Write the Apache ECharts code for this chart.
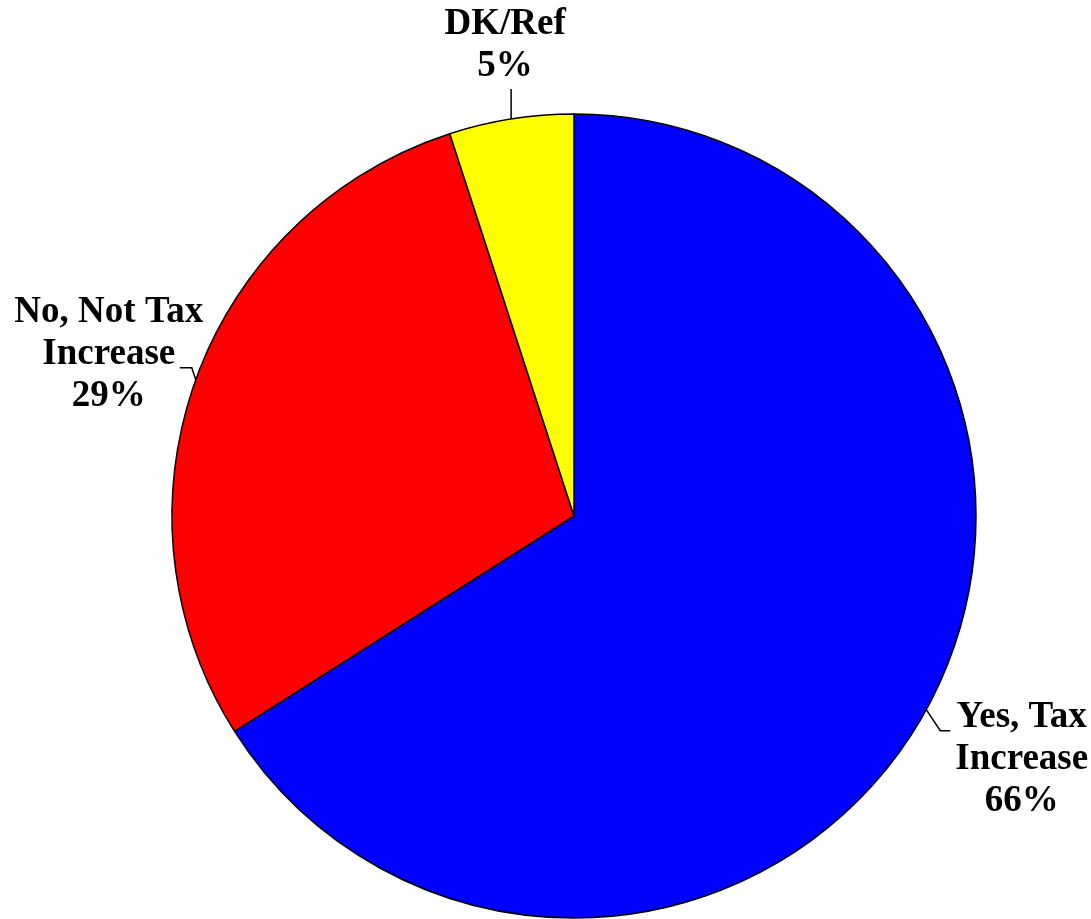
<!DOCTYPE html>
<html>
<head>
<meta charset="utf-8">
<script src="https://cdn.jsdelivr.net/npm/echarts@6/dist/echarts.min.js"></script>
<style>
html,body{margin:0;padding:0;background:#fff;}
#chart{width:1091px;height:919px;}
</style>
</head>
<body>
<div id="chart"></div>
<script>
const categories = ['Yes, Tax\nIncrease', 'No, Not Tax\nIncrease', 'DK/Ref'];
const values = [66, 29, 5];
const colors = ['#0000FF', '#FF0000', '#FFFF00'];

const chart = echarts.init(document.getElementById('chart'));

// label placement relative to the arc point computed by ECharts
function layoutLabel(params) {
  const pts = params.labelLinePoints;
  if (!pts) return {};
  const p0 = pts[0];
  const w = params.labelRect.width;
  let elbow, end, x, y;
  if (params.dataIndex === 0) {
    elbow = [p0[0] + 14, p0[1] + 21];
    end = [elbow[0] + 10, elbow[1]];
    x = end[0] + 5 + w / 2;
    y = end[1] - 34;
  } else if (params.dataIndex === 1) {
    elbow = [p0[0] - 4, p0[1] - 12];
    end = [elbow[0] - 12, elbow[1]];
    x = end[0] - 71;
    y = end[1] - 76;
  } else {
    elbow = [p0[0], p0[1] - 15];
    end = [p0[0], p0[1] - 30];
    x = p0[0] - 6;
    y = end[1] - 86;
  }
  return {
    x: x, y: y, align: 'center', verticalAlign: 'top',
    labelLinePoints: [p0, elbow, end]
  };
}

chart.setOption({
  animation: false,
  backgroundColor: '#ffffff',
  series: [{
    type: 'pie',
    center: [574, 516],
    radius: 402,
    startAngle: 90,
    clockwise: true,
    avoidLabelOverlap: false,
    itemStyle: { borderColor: '#000000', borderWidth: 1.5 },
    emphasis: { disabled: true },
    label: {
      show: true,
      position: 'outside',
      formatter: function (p) { return p.name + '\n' + p.value + '%'; },
      fontFamily: 'Liberation Serif',
      fontWeight: 'bold',
      fontSize: 37,
      lineHeight: 42,
      color: '#000000',
      align: 'center'
    },
    labelLine: {
      show: true,
      length: 15,
      length2: 10,
      smooth: false,
      lineStyle: { color: '#000000', width: 1.5 }
    },
    labelLayout: layoutLabel,
    data: categories.map((c, i) => ({ name: c, value: values[i], itemStyle: { color: colors[i] } }))
  }]
});
</script>
</body>
</html>
